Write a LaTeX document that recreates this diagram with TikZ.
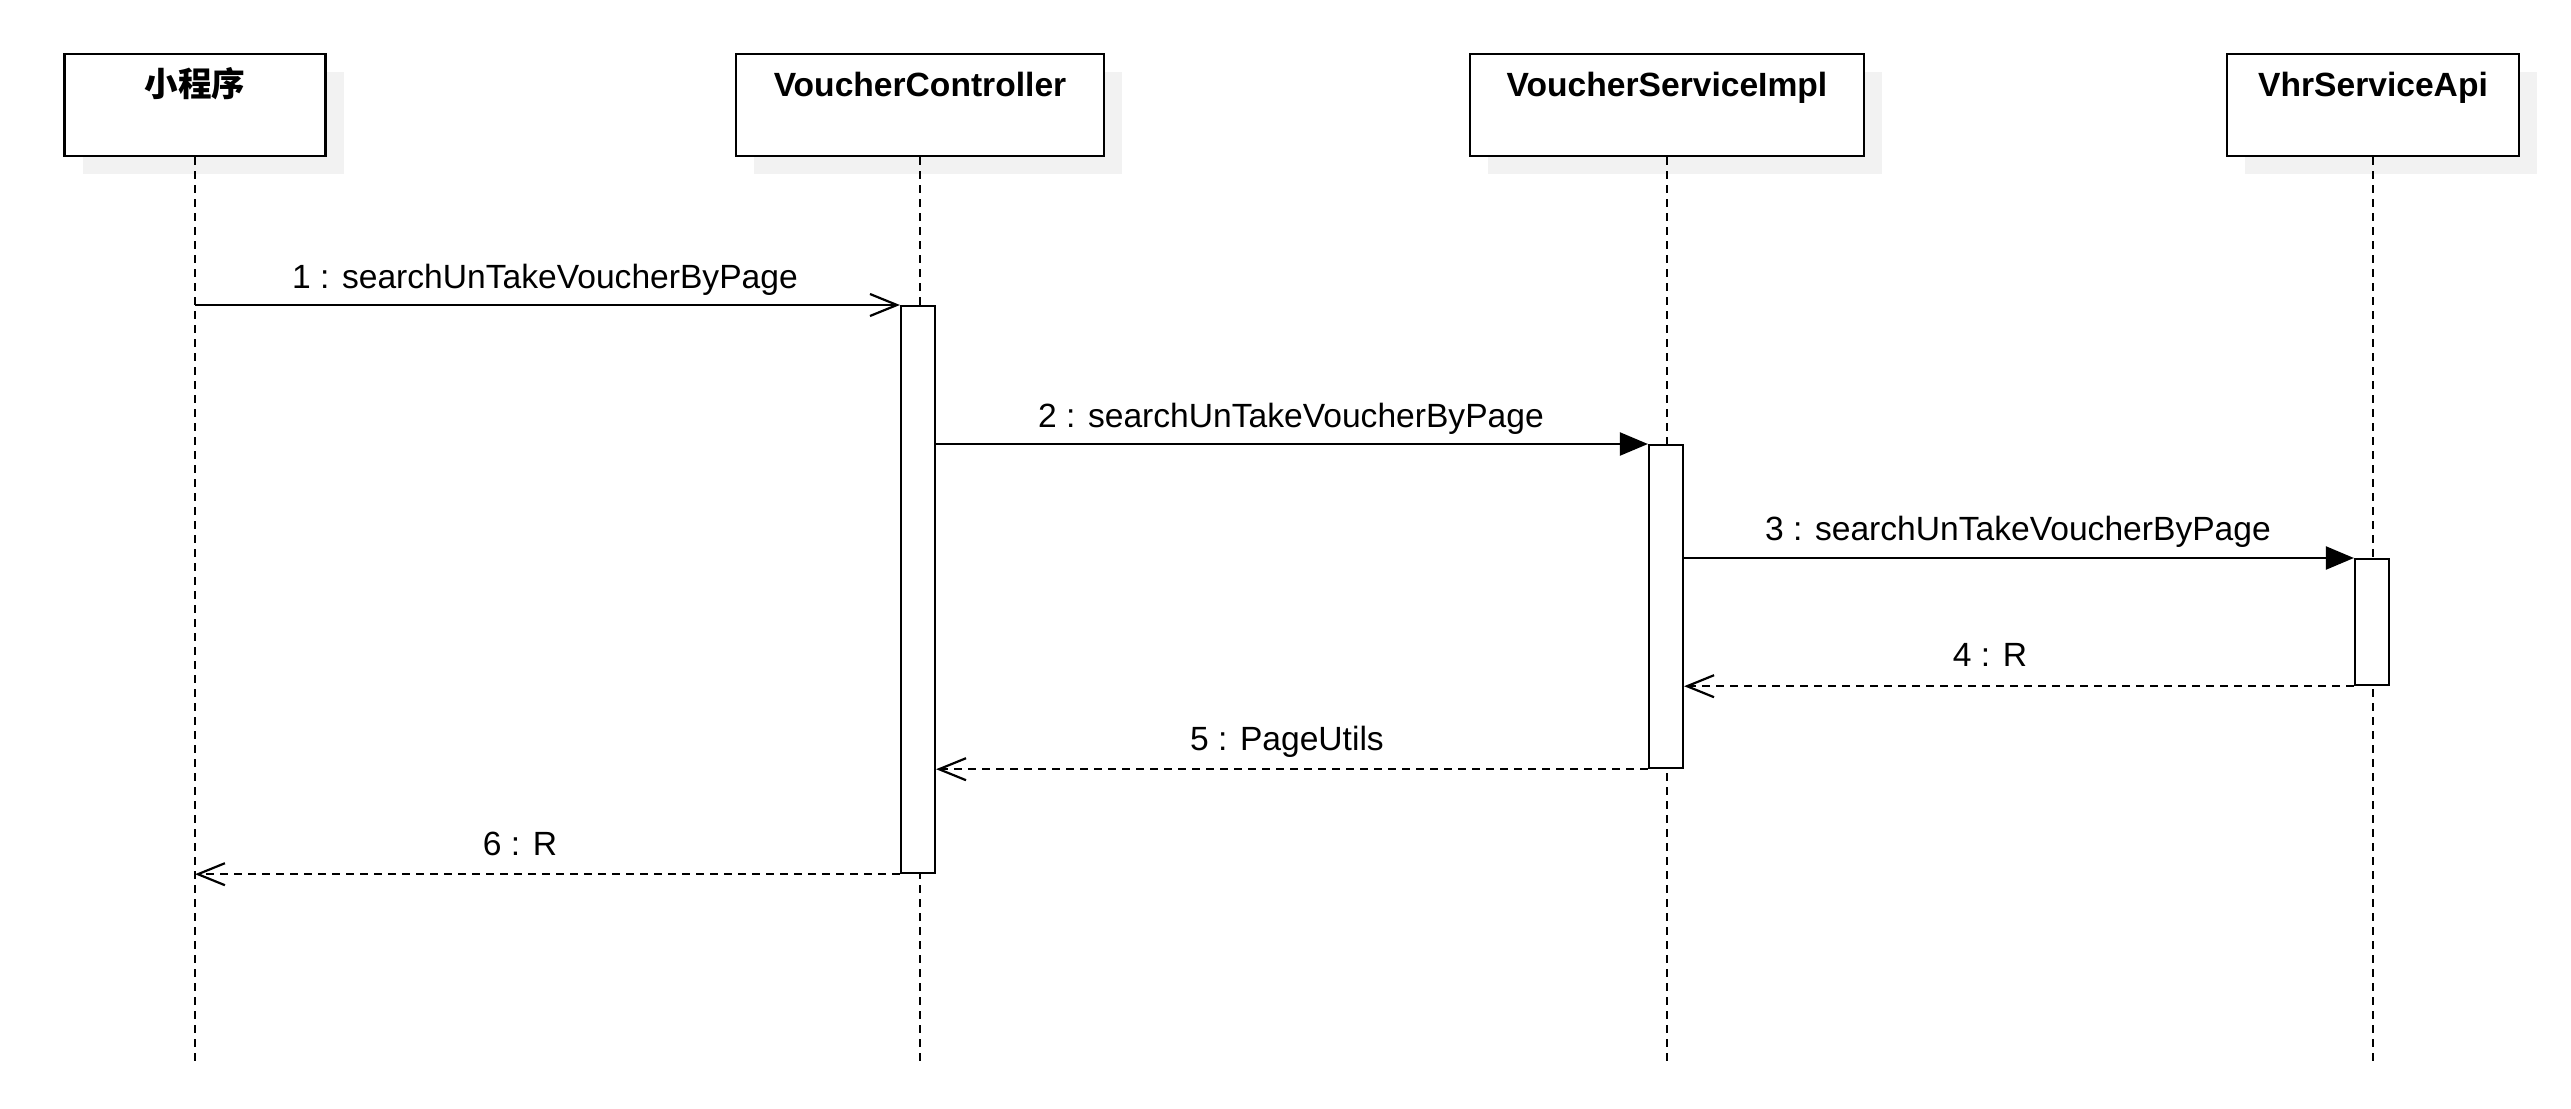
\documentclass[tikz,border=0pt]{standalone}
\usepackage{fontspec}
\setmainfont{Liberation Sans}
\newfontfamily\cjk{Noto Sans CJK SC}
\usetikzlibrary{arrows.meta,shadows}
\definecolor{shadowgray}{RGB}{242,242,242}
\tikzset{
  every node/.style={font=\fontsize{33.6}{40}\selectfont},
  headbox/.style={draw, line width=2.5pt, fill=white, minimum height=102pt, inner sep=0pt,
    general shadow={fill=shadowgray, shadow xshift=18pt, shadow yshift=-18pt}},
  headtext/.style={anchor=base, inner sep=0pt, font=\fontsize{33.6}{40}\selectfont\bfseries},
  lifeline/.style={line width=2pt, dash pattern=on 8pt off 6pt},
  actbar/.style={draw, line width=2.2pt, fill=white, minimum width=34pt, inner sep=0pt},
  callmsg/.style={line width=2.2pt, -{Triangle[length=28pt,width=23pt]}},
  asyncmsg/.style={line width=2.2pt, -{Straight Barb[length=27pt,width=22pt,line width=2.2pt]}},
  retmsg/.style={line width=2pt, dash pattern=on 8pt off 6pt, -{Straight Barb[length=27pt,width=22pt,line width=2.2pt,sep=0pt]}},
  msglabel/.style={anchor=base, inner sep=0pt},
}
\begin{document}
\begin{tikzpicture}[x=1pt,y=-1pt]
\useasboundingbox (0,0) rectangle (2571,1108);
% heads
\node[headbox, minimum width=261pt]  (b1) at (195,105) {};
\node[headbox, minimum width=368pt]  (b2) at (920,105) {};
\node[headbox, minimum width=394pt]  (b3) at (1667,105) {};
\node[headbox, minimum width=292pt]  (b4) at (2373,105) {};
\node[headtext] (t1) at ([yshift=-44pt]b1.north) {\cjk\bfseries 小程序};
\node[headtext] (t2) at ([yshift=-44pt]b2.north) {VoucherController};
\node[headtext] (t3) at ([yshift=-44pt]b3.north) {VoucherServiceImpl};
\node[headtext] (t4) at ([yshift=-44pt]b4.north) {VhrServiceApi};
% lifeline ends
\coordinate (e1) at (195,1062);
\coordinate (e2) at (920,1062);
\coordinate (e3) at (1667,1062);
\coordinate (e4) at (2373,1062);
\draw[lifeline] (b1.south) -- (e1);
\draw[lifeline] (b2.south) -- (e2);
\draw[lifeline] (b3.south) -- (e3);
\draw[lifeline] (b4.south) -- (e4);
% activation bars
\node[actbar, minimum height=567pt, anchor=north] (a2) at (918,305) {};
\node[actbar, minimum height=323pt, anchor=north] (a3) at (1666,444) {};
\node[actbar, minimum height=126pt, anchor=north] (a4) at (2372,558) {};
% messages
\coordinate (s1) at (195,305);
\draw[asyncmsg] (s1) -- (a2.north west);
\draw[callmsg] (a2.east |- a3.north) -- (a3.north west);
\draw[callmsg] (a3.east |- a4.north) -- (a4.north west);
\draw[retmsg] (a4.south west) -- (a3.east |- a4.south);
\draw[retmsg] (a3.south west) -- (a2.east |- a3.south);
\draw[retmsg] (a2.south west) -- (b1 |- a2.south);
% labels
\node[msglabel] (l1) at (545,288) {1 : searchUnTakeVoucherByPage};
\node[msglabel] (l2) at (1291,427) {2 : searchUnTakeVoucherByPage};
\node[msglabel] (l3) at (2018,540) {3 : searchUnTakeVoucherByPage};
\node[msglabel] (l4) at (1990,666) {4 : R};
\node[msglabel] (l5) at (1287,750) {5 : PageUtils};
\node[msglabel] (l6) at (520,855) {6 : R};
\end{tikzpicture}
\end{document}
